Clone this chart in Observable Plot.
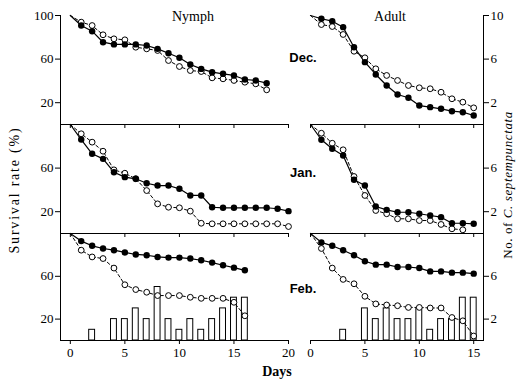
<!DOCTYPE html>
<html><head><meta charset="utf-8">
<script src="https://cdn.jsdelivr.net/npm/d3@7"></script>
<script src="https://cdn.jsdelivr.net/npm/@observablehq/plot@0.6"></script>
<style>
body{margin:0;background:#fff;}
#chart{position:relative;width:525px;height:385px;background:#fff;overflow:hidden;font-family:"Liberation Serif",serif;color:#000;}
.lbl{position:absolute;white-space:nowrap;line-height:1;transform:translate(-50%,-50%);}
.rot{transform:translate(-50%,-50%) rotate(-90deg);}
.month{font-family:"Liberation Sans",sans-serif;font-weight:bold;font-size:13px;}
.panel{position:absolute;}
</style></head><body><div id="chart"></div><script>
// ---- data ----
const nymphDays = [0,1,2,3,4,5,6,7,8,9,10,11,12,13,14,15,16,17,18,19,20];
const adultDays = [0,1,2,3,4,5,6,7,8,9,10,11,12,13,14,15];
const nymphTicks = [0,5,10,15,20];
const adultTicks = [0,5,10,15];
const rowNames = ["Dec.","Jan.","Feb."];
const colNames = ["Nymph","Adult"];

// survival rate (%) by day, filled circles (solid line) and open circles (dashed line)
const decNymphFilled = [100,90.8,85.6,75.5,73.5,73.5,73.5,72.5,69.4,65.4,61.2,55,51,48,46.5,45,41.3,40.4,37.9];
const decNymphOpen   = [100,93.9,90.8,82.3,78.6,77.7,70.9,69.4,67.9,58.7,53.2,49.5,48.6,42.8,41.9,40.4,38.8,37.3,31.8];
const janNymphFilled = [100,86.2,73.1,68.5,56.2,51.7,50.2,46.1,44,44,41,34.9,34.9,24.1,23.6,23.6,23.6,23.6,23.6,22.7,20.5];
const janNymphOpen   = [100,91.5,83.8,75.5,58.4,55.3,50.2,39.4,27.2,24.1,23.6,20.5,9.4,8.9,8.9,8.9,8.9,8.9,8.9,8.9,6.4];
const febNymphFilled = [100,92.9,88.5,86,84.4,82.3,80.4,79.7,78.1,77.5,77.5,76.6,75,72.8,70.3,68.1,65.6];
const febNymphOpen   = [100,84.4,78.1,76.6,67.7,52.1,47.6,45.1,42,42,42,40.4,39.4,39.4,39.4,35.7,23.1];

const decAdultFilled = [100,97,94.8,89.3,70.9,57.2,45.9,35.8,27.5,24.5,17.4,15.9,14.4,12.2,11.3,8.3];
const decAdultOpen   = [100,91.7,89.9,82.6,67.2,61.2,51.1,45,40.4,35.8,33.7,32.8,29.6,23.6,20.5,15.3];
const janAdultFilled = [100,86,77.7,71.6,49.3,44,24.8,21.7,19.5,19.5,18.1,16.5,15,9.4,9.4,8.9];
const janAdultOpen   = [100,92,82.8,76.8,52.3,34.9,21.1,18.1,13.5,13.5,11.9,11.9,8.3,4.3,3.4];
const febAdultFilled = [100,91.7,88.5,84.4,79.7,74.1,70.9,70.9,68.7,68.7,67.7,64.6,64.6,63.4,63.4,62.5];
const febAdultOpen   = [100,86,67.7,57.1,53,41.3,34.2,33.2,32.5,30.9,30.9,30.4,30.4,21.5,18.4,4.2];

// No. of C. septempunctata (Feb.)
const febNymphBarDays   = [2,4,5,6,7,8,9,10,11,12,13,14,15,16];
const febNymphBarCounts = [1,2,2,3,2,5,2,1,2,1,2,3,4,4];
const febAdultBarDays   = [3,5,6,7,8,9,10,11,12,13,14,15];
const febAdultBarCounts = [1,3,2,3,2,2,3,1,2,2,4,4];

// ---- drawing ----
const chart = document.getElementById("chart");
const rows = [
  {top: 15, h: 109}, {top: 124, h: 109}, {top: 233, h: 107}
];
const cols = [
  {left: 0, width: 300, mL: 60, mR: 12, xDomain: [-0.9, 20], xTicks: nymphTicks, days: nymphDays, axis: "left", fmt: d => String(d)},
  {left: 290, width: 235, mL: 20, mR: 42, xDomain: [0, 15.9], xTicks: adultTicks, days: adultDays, axis: "right", fmt: d => String(d / 10)}
];
const series = [
  [[decNymphFilled, decNymphOpen, null], [decAdultFilled, decAdultOpen, null]],
  [[janNymphFilled, janNymphOpen, null], [janAdultFilled, janAdultOpen, null]],
  [[febNymphFilled, febNymphOpen, [febNymphBarDays, febNymphBarCounts]], [febAdultFilled, febAdultOpen, [febAdultBarDays, febAdultBarCounts]]]
];

rows.forEach((row, ri) => {
  cols.forEach((col, ci) => {
    const [filled, open, bars] = series[ri][ci];
    const fData = filled.map((v, i) => ({day: col.days[i], v}));
    const oData = open.map((v, i) => ({day: col.days[i], v}));
    const marks = [];
    if (bars) {
      const bData = bars[0].map((d, i) => ({day: d, count: bars[1][i]}));
      marks.push(Plot.rectY(bData, {x1: d => d.day - 0.27, x2: d => d.day + 0.27, y: d => d.count * 10, fill: "white", stroke: "black", strokeWidth: 1}));
    }
    marks.push(Plot.line(oData, {x: "day", y: "v", stroke: "black", strokeWidth: 1, strokeDasharray: "3,2.5"}));
    marks.push(Plot.line(fData, {x: "day", y: "v", stroke: "black", strokeWidth: 1.2}));
    marks.push(Plot.dot(oData.filter(d => d.day > 0), {x: "day", y: "v", r: 2.9, fill: "white", stroke: "black", strokeWidth: 1}));
    marks.push(Plot.dot(fData.filter(d => d.day > 0), {x: "day", y: "v", r: 3.2, fill: "black", stroke: "none"}));
    const mT = 10, mB = 30;
    const yTicks = ri === 0 ? [20, 60, 100] : [20, 60];
    const svg = Plot.plot({
      width: col.width, height: mT + row.h + mB,
      marginLeft: col.mL, marginRight: col.mR, marginTop: mT, marginBottom: mB,
      style: {background: "transparent", overflow: "visible", fontFamily: "Liberation Serif, serif", fontSize: "13px", color: "black"},
      x: {domain: col.xDomain, ticks: col.xTicks, tickSize: 4, tickPadding: 3, line: true, label: null,
          tickFormat: ri === 2 ? (d => String(d)) : (() => "")},
      y: {domain: [0, 100], axis: col.axis, ticks: yTicks, tickSize: 5, tickPadding: 2, line: true, label: null, tickFormat: col.fmt},
      marks
    });
    svg.classList.add("panel");
    svg.style.left = col.left + "px";
    svg.style.top = (row.top - mT) + "px";
    chart.appendChild(svg);
  });
});

function label(html, x, y, cls, style) {
  const d = document.createElement("div");
  d.className = "lbl " + (cls || "");
  d.innerHTML = html;
  d.style.left = x + "px";
  d.style.top = y + "px";
  if (style) d.setAttribute("style", d.getAttribute("style") + ";" + style);
  chart.appendChild(d);
}
label(colNames[0], 193, 17, "", "font-size:14px");
label(colNames[1], 390, 17, "", "font-size:14px");
label(rowNames[0], 303, 57, "month");
label(rowNames[1], 303, 172, "month");
label(rowNames[2], 303, 288, "month");
label("Days", 277, 372, "", "font-size:14px;font-weight:bold");
label("Survival rate (%)", 15, 190, "rot", "font-size:14px;letter-spacing:1.8px");
label("No. of <i>C. septempunctata</i>", 507, 185, "rot", "font-size:13px;letter-spacing:0.6px");
</script></body></html>
